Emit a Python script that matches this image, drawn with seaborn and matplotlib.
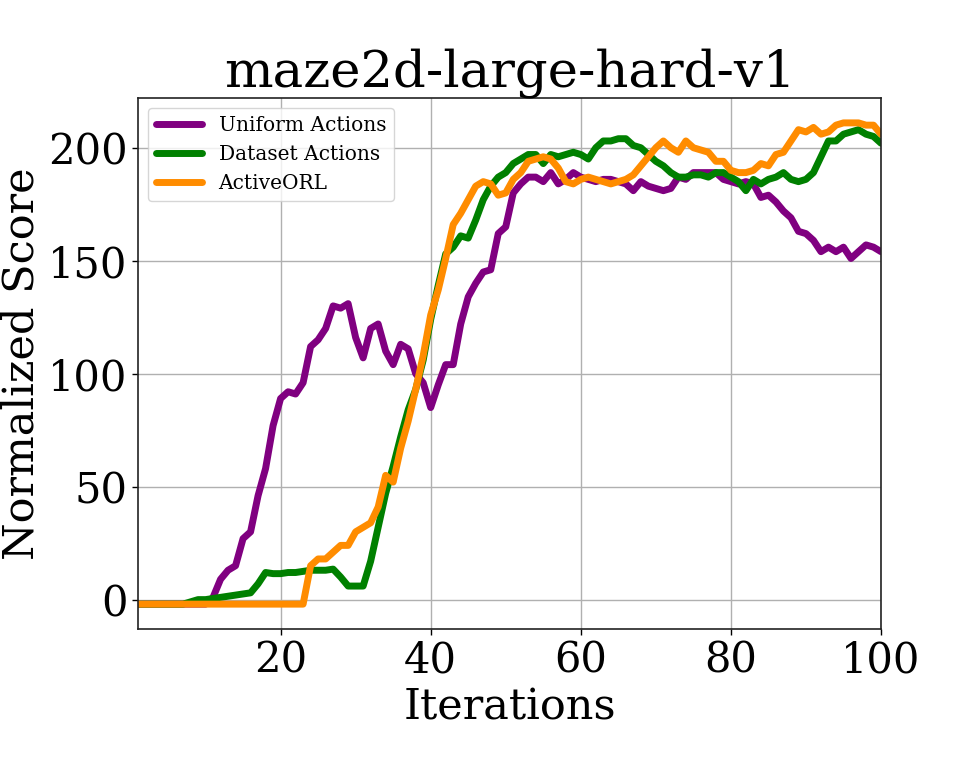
import warnings
warnings.filterwarnings('ignore')

import matplotlib
matplotlib.use('Agg')
import matplotlib.pyplot as plt
import numpy as np
import pandas as pd
import seaborn as sns

# 数据：每次迭代的归一化得分
iterations = list(range(1, 101))

uniform_actions = [
    -2, -2, -2, -2, -2, -2, -2, -2, -2, -2,
    1, 9, 13, 15, 27, 30, 46, 58, 77, 89,
    92, 91, 96, 112, 115, 120, 130, 129, 131, 116,
    107, 120, 122, 110, 104, 113, 111, 100, 96, 85,
    95, 104, 104, 122, 134, 140, 145, 146, 162, 165,
    180, 184, 187, 187, 185, 189, 184, 186, 189, 187,
    186, 185, 186, 186, 185, 184, 181, 185, 183, 182,
    181, 182, 187, 186, 189, 189, 189, 189, 186, 185,
    184, 185, 184, 178, 179, 176, 172, 169, 163, 162,
    159, 154, 156, 154, 156, 151, 154, 157, 156, 154,
]

dataset_actions = [
    -2, -2, -2, -2, -2, -2, -2, -1, 0, 0,
    0.5, 1, 1.5, 2, 2.5, 3, 7, 12, 11.5, 11.5,
    12, 12, 12.5, 13, 13, 13, 13.5, 10, 6, 6,
    6, 17, 32, 47, 59, 72, 84, 93, 106, 124,
    139, 153, 156, 161, 160, 168, 177, 183, 187, 189,
    193, 195, 197, 197, 193, 197, 196, 197, 198, 197,
    195, 200, 203, 203, 204, 204, 201, 200, 197, 194,
    192, 189, 187, 187, 188, 188, 187, 189, 189, 187,
    185, 181, 186, 184, 186, 187, 189, 186, 185, 186,
    189, 196, 203, 203, 206, 207, 208, 206, 205, 202,
]

active_orl = [
    -2, -2, -2, -2, -2, -2, -2, -2, -2, -2,
    -2, -2, -2, -2, -2, -2, -2, -2, -2, -2,
    -2, -2, -2, 15, 18, 18, 21, 24, 24, 30,
    32, 34, 41, 55, 52, 67, 79, 93, 108, 126,
    137, 151, 166, 171, 177, 183, 185, 184, 179, 180,
    186, 189, 194, 195, 196, 195, 191, 185, 184, 186,
    187, 186, 185, 184, 185, 186, 188, 192, 196, 200,
    203, 200, 198, 203, 200, 199, 198, 194, 194, 190,
    189, 189, 190, 193, 192, 197, 198, 203, 208, 207,
    209, 206, 207, 210, 211, 211, 211, 210, 210, 206,
]

method_names = ['Uniform Actions', 'Dataset Actions', 'ActiveORL']
method_colors = ['purple', 'green', 'darkorange']

# 整理成长表
df = pd.concat([
    pd.DataFrame({'Iterations': iterations, 'Score': vals, 'Method': name})
    for name, vals in zip(method_names, [uniform_actions, dataset_actions, active_orl])
], ignore_index=True)

sns.set_style('ticks')
plt.rcParams['font.family'] = ['DejaVu Serif', 'DejaVu Sans']
plt.rcParams['text.color'] = 'black'
plt.rcParams['axes.labelcolor'] = 'black'
plt.rcParams['xtick.color'] = 'black'
plt.rcParams['ytick.color'] = 'black'

fig = plt.figure(figsize=(9.69, 7.75), dpi=100)
ax = fig.add_axes([0.1424, 0.1884, 0.7668, 0.6851])

sns.lineplot(data=df, x='Iterations', y='Score', hue='Method',
             hue_order=method_names, palette=method_colors,
             linewidth=5, ax=ax)

ax.set_xlim(1, 100)
ax.set_ylim(-13, 222)
ax.set_xticks([20, 40, 60, 80, 100])
ax.set_yticks([0, 50, 100, 150, 200])
ax.grid(True, color='#b0b0b0', linewidth=1)
ax.set_axisbelow(True)
for sp in ax.spines.values():
    sp.set_color('#222222')
    sp.set_linewidth(1.2)
ax.tick_params(labelsize=30, length=4, width=1)

ax.set_title('maze2d-large-hard-v1', fontsize=37)
ax.set_xlabel('Iterations', fontsize=31)
ax.set_ylabel('Normalized Score', fontsize=31)

leg = ax.legend(loc='upper left', fontsize=14.5, title=None, framealpha=0.8,
                handlelength=2.3)
for line in leg.get_lines():
    line.set_linewidth(5)

fig.savefig('out.png', dpi=100)
